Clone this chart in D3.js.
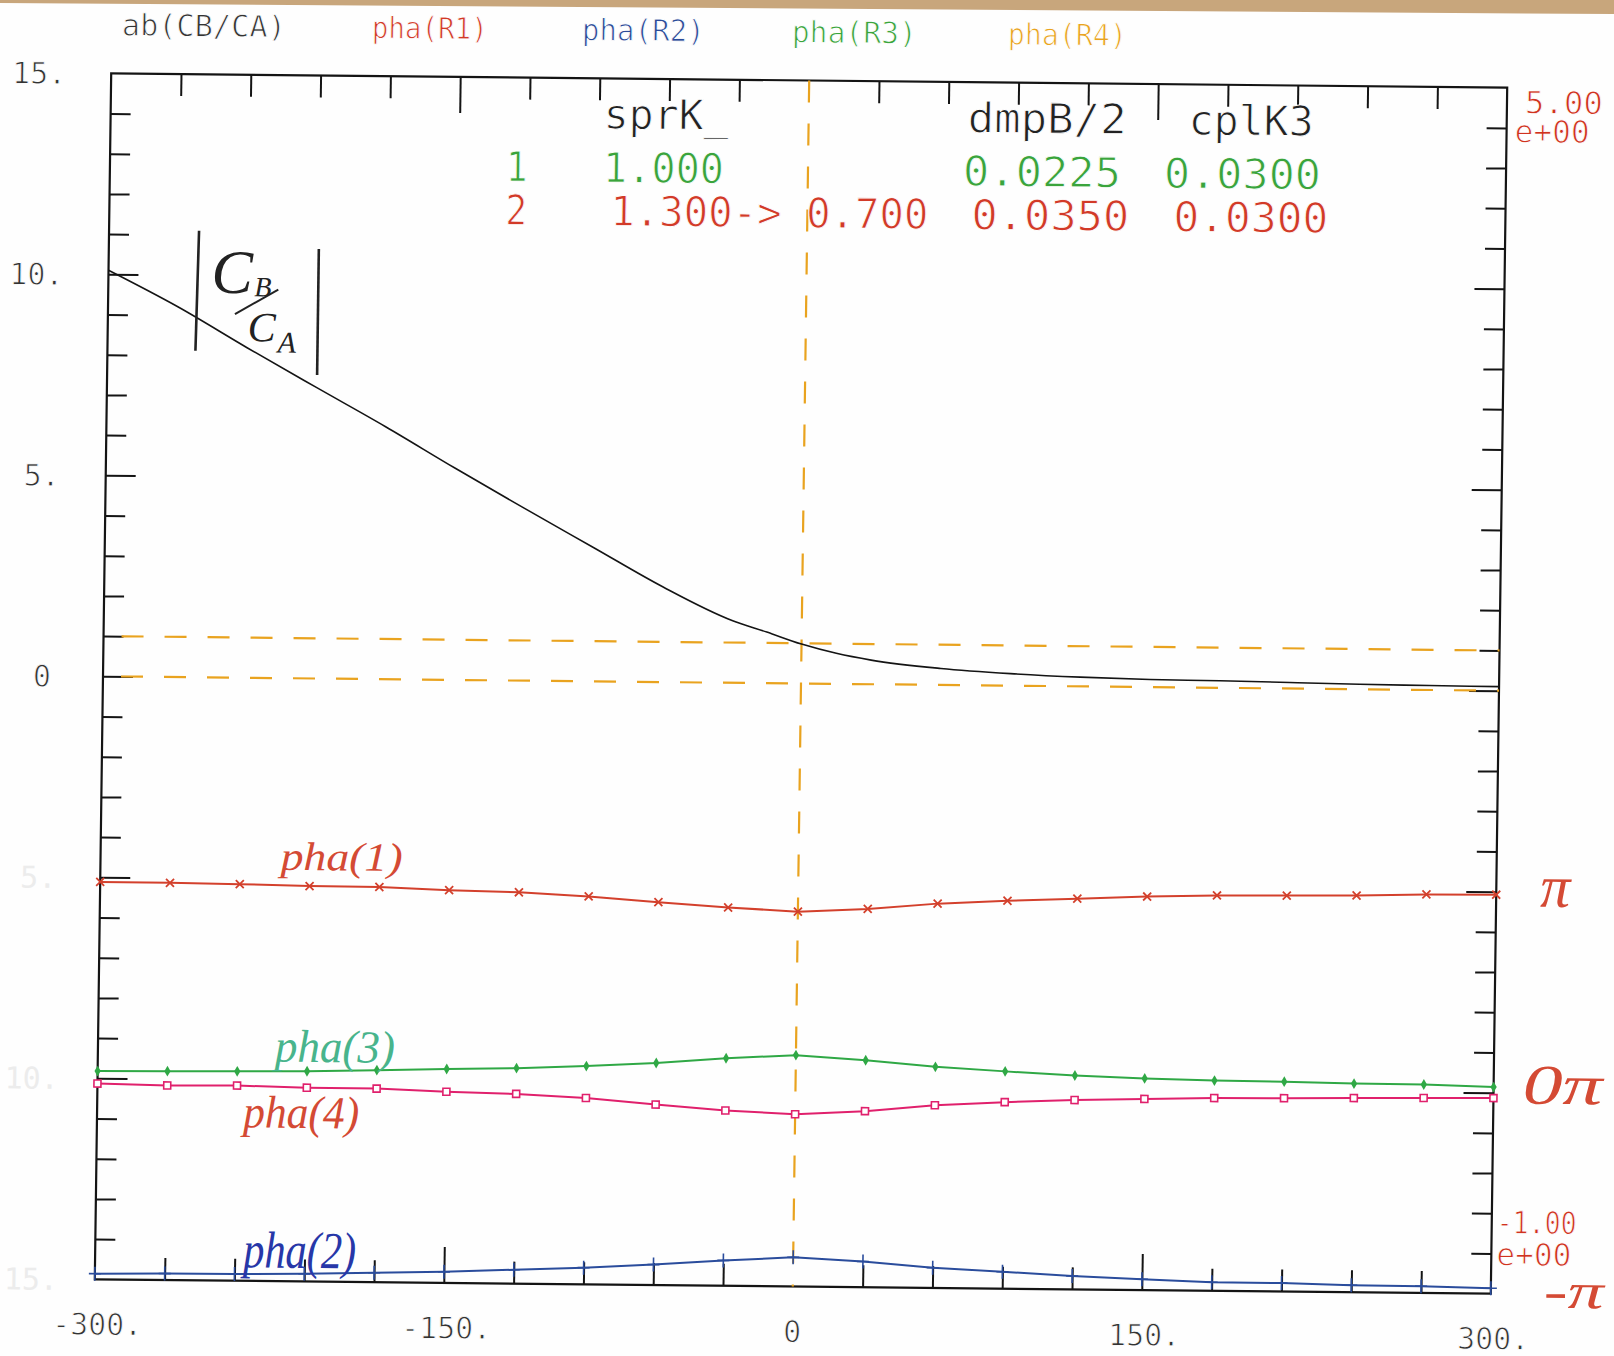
<!DOCTYPE html>
<html>
<head>
<meta charset="utf-8">
<script src="https://cdn.jsdelivr.net/npm/d3@7"></script>
<style>
  html, body { margin: 0; padding: 0; background: #ffffff; }
  svg { display: block; }
</style>
</head>
<body>
<script>
// ---------------- DATA ----------------
const absX   = [-300,-270,-240,-210,-180,-150,-120,-90,-60,-30,-15,0,15,30,60,90,120,150,180,210,240,270,300];
const absVal = [10.10,9.21,8.21,7.24,6.28,5.27,4.29,3.33,2.37,1.55,1.27,0.98,0.76,0.60,0.41,0.30,0.23,0.19,0.175,0.15,0.125,0.11,0.10];

const phaseX = [-300,-270,-240,-210,-180,-150,-120,-90,-60,-30,0,30,60,90,120,150,180,210,240,270,300];
const pha1 = [0.977,0.976,0.973,0.967,0.966,0.954,0.947,0.930,0.905,0.882,0.865,0.882,0.912,0.930,0.944,0.958,0.967,0.970,0.974,0.983,0.985];
const pha2 = [-0.972,-0.968,-0.966,-0.962,-0.953,-0.945,-0.931,-0.917,-0.898,-0.874,-0.855,-0.872,-0.899,-0.916,-0.933,-0.946,-0.957,-0.958,-0.965,-0.966,-0.973];
const pha3 = [0.036,0.039,0.042,0.046,0.055,0.064,0.072,0.086,0.105,0.132,0.151,0.129,0.100,0.081,0.064,0.053,0.046,0.044,0.038,0.037,0.028];
const pha4 = [-0.026,-0.032,-0.029,-0.036,-0.037,-0.049,-0.056,-0.073,-0.102,-0.128,-0.143,-0.124,-0.091,-0.072,-0.058,-0.049,-0.041,-0.038,-0.034,-0.030,-0.027];

const refLevels = [0, 1];      // dashed horizontal reference lines (left axis)
const refX = [0];              // dashed vertical reference line

const legendLabels = ["ab(CB/CA)", "pha(R1)", "pha(R2)", "pha(R3)", "pha(R4)"];
const paramHeader = ["sprK_", "dmpB/2", "cplK3"];
const paramRow1 = ["1", "1.000", "0.0225", "0.0300"];
const paramRow2 = ["2", "1.300-> 0.700", "0.0350", "0.0300"];

const xTickLabels = ["-300.", "-150.", "0", "150.", "300."];
const xTickValues = [-300, -150, 0, 150, 300];
const yLeftLabels = ["15.", "10.", "5.", "0"];
const yLeftValues = [15, 10, 5, 0];
const yLeftFaintLabels = ["5.", "10.", "15."];
const yLeftFaintValues = [-5, -10, -15];
const yRightLabels = [["5.00", "e+00"], ["-1.00", "e+00"]];
const yRightValues = [5, -1];

// ---------------- LAYOUT ----------------
const W = 1614, H = 1356;
const L = 103, R = 1499, T = 80.5, B = 1286.5;
const CX = 801, CY = 683;

const C = {
  black: "#141414", red: "#d3402c", blue: "#2a4c9c", green: "#2fa845",
  pink: "#e0206c", orange: "#e9a31f", legendGreen: "#3aa43c", legendBlue: "#2b4a98",
  legendRed: "#d23a28", hand: "#d44a34", handGreen: "#48b48c", handBlue: "#2737a8"
};
const MONO = "'DejaVu Sans Mono', monospace";
const HAND = "'Liberation Serif', 'DejaVu Serif', serif";
const BG = "#fefefe";

const svg = d3.select("body").append("svg").attr("width", W).attr("height", H);
svg.append("rect").attr("width", W).attr("height", H).attr("fill", BG);
// scanner edge strip
svg.append("polygon").attr("points", "0,0 1614,0 1614,14 0,3").attr("fill", "#c8a67c");

const g = svg.append("g")
  .attr("transform", `translate(${CX},${CY}) matrix(1,0.0103,-0.0136,1,0,0) translate(${-CX},${-CY})`);

const x = d3.scaleLinear().domain([-300, 300]).range([L, R]);
const yL = d3.scaleLinear().domain([-15, 15]).range([B, T]);
const yR = d3.scaleLinear().domain([-1, 5]).range([B, T]);

// ---------------- TICKS ----------------
function tickAxis(gen, tx, ty, values, size) {
  g.append("g").attr("transform", `translate(${tx},${ty})`)
    .call(gen.tickValues(values).tickSize(size).tickFormat(""))
    .call(s => s.select(".domain").remove())
    .call(s => s.selectAll("line").attr("stroke", C.black).attr("stroke-width", 2));
}
const xMinor = [-270,-240,-210,-180,-120,-90,-60,-30,30,60,90,120,180,210,240,270];
const xMajor = [-150, 150];
tickAxis(d3.axisTop(x), 0, T, xMinor, -22);
tickAxis(d3.axisTop(x), 0, T, xMajor, -36);
tickAxis(d3.axisBottom(x), 0, B, xMinor, -22);
tickAxis(d3.axisBottom(x), 0, B, xMajor, -36);

const yMinor = d3.range(-14, 15).filter(v => v % 5 !== 0);
const yMajor = [-10, -5, 0, 5, 10];
tickAxis(d3.axisLeft(yL), L, 0, yMinor, -20);
tickAxis(d3.axisLeft(yL), L, 0, yMajor, -30);
const rMinor = d3.range(-4, 25).filter(i => i % 5 !== 0).map(i => i / 5);
const rMajor = [0, 1, 2, 3, 4];
tickAxis(d3.axisRight(yR), R, 0, rMinor, -20);
tickAxis(d3.axisRight(yR), R, 0, rMajor, -30);

// frame
g.append("rect").attr("x", L).attr("y", T).attr("width", R - L).attr("height", B - T)
  .attr("fill", "none").attr("stroke", C.black).attr("stroke-width", 2.2);

// ---------------- REFERENCE DASHED LINES ----------------
g.selectAll(".refh").data(refLevels).join("line")
  .attr("x1", x(-300)).attr("x2", x(300))
  .attr("y1", d => yL(d)).attr("y2", d => yL(d))
  .attr("stroke", C.orange).attr("stroke-width", 2.2).attr("stroke-dasharray", "22,21")
  .attr("stroke-dashoffset", -18);
g.selectAll(".refv").data(refX).join("line")
  .attr("x1", d => x(d)).attr("x2", d => x(d))
  .attr("y1", yL(15)).attr("y2", yL(-15))
  .attr("stroke", C.orange).attr("stroke-width", 2.2).attr("stroke-dasharray", "22,21");

// ---------------- CURVES ----------------
const absLine = d3.line().curve(d3.curveMonotoneX).x((d, i) => x(absX[i])).y(d => yL(d));
g.append("path").attr("d", absLine(absVal)).attr("fill", "none")
  .attr("stroke", C.black).attr("stroke-width", 1.6);

const phLine = d3.line().x((d, i) => x(phaseX[i])).y(d => yR(d));
const series = [
  { v: pha1, c: C.red, m: "x" },
  { v: pha3, c: C.green, m: "d" },
  { v: pha4, c: C.pink, m: "s" },
  { v: pha2, c: C.blue, m: "+" }
];
series.forEach(s => {
  g.append("path").attr("d", phLine(s.v)).attr("fill", "none")
    .attr("stroke", s.c).attr("stroke-width", 2);
  const mk = g.append("g").selectAll("g").data(s.v).join("g")
    .attr("transform", (d, i) => `translate(${x(phaseX[i])},${yR(d)})`);
  if (s.m === "x") {
    mk.append("path").attr("d", "M-4,-4L4,4M-4,4L4,-4").attr("stroke", s.c).attr("stroke-width", 1.8);
  } else if (s.m === "+") {
    mk.append("path").attr("d", "M-6,0H6M0,-7V7").attr("stroke", s.c).attr("stroke-width", 1.6);
  } else if (s.m === "s") {
    mk.append("rect").attr("x", -3.5).attr("y", -3.5).attr("width", 7).attr("height", 7)
      .attr("fill", "#fff").attr("stroke", s.c).attr("stroke-width", 1.6);
  } else {
    mk.append("path").attr("d", d3.symbol().type(d3.symbolDiamond).size(34)()).attr("fill", s.c);
  }
});

// ---------------- TEXT ----------------
// thin "plotter" look: erode glyphs slightly with a background-coloured stroke
function thin(sel, w) { return sel.attr("stroke", BG).attr("stroke-width", w).attr("paint-order", "normal"); }

function txt(str, px, py, o) {
  const t = g.append("text").text(str)
    .attr("font-family", o.font || MONO).attr("font-size", o.size)
    .attr("fill", o.color).attr("text-anchor", o.anchor || "start");
  if (o.sy) t.attr("transform", `translate(${px},${py}) scale(1,${o.sy})`).attr("x", 0).attr("y", 0);
  else t.attr("x", px).attr("y", py);
  if (o.italic) t.attr("font-style", "italic");
  if (o.len) t.attr("textLength", o.len).attr("lengthAdjust", "spacingAndGlyphs");
  if (o.thin) thin(t, o.thin);
  return t;
}

// legend header
const legendX = [113, 363, 573, 783, 999];
const legendLen = [164, 116, 123, 125, 119];
const legendCol = ["#333333", C.legendRed, C.legendBlue, C.legendGreen, C.orange];
legendLabels.forEach((s, i) => txt(s, legendX[i], 42.5, { size: 30, color: legendCol[i], len: legendLen[i], thin: 0.9 }));

// parameter table (tall, narrow plotter lettering)
const TS = { size: 36, sy: 1.15, thin: 0.8 };
const hdrX = [596, 960, 1181], hdrLen = [125, 159, 125];
paramHeader.forEach((s, i) => txt(s, hdrX[i], 130.5, { ...TS, color: "#222", len: hdrLen[i] }));
const r1X = [499, 596, 956, 1157], r1Len = [null, 121, 158, 157];
paramRow1.forEach((s, i) => txt(s, r1X[i], 184, { ...TS, color: C.legendGreen, len: r1Len[i] }));
const r2X = [499, 604, 965, 1167], r2Len = [null, 318, 158, 155];
paramRow2.forEach((s, i) => txt(s, r2X[i], 227.5, { ...TS, color: C.legendRed, len: r2Len[i] }));

// bottom axis labels
xTickLabels.forEach((s, i) => txt(s, x(xTickValues[i]) + (s.endsWith(".") ? 3 : 0), 1342,
  { size: 30, color: "#333", anchor: "middle", thin: 0.9 }));

// left axis labels
const yLabX = [31, 31, 39, 42];
yLeftLabels.forEach((s, i) => txt(s, yLabX[i], yL(yLeftValues[i]) + 11, { size: 30, color: "#333", anchor: "middle", thin: 0.9 }));
const yFaintX = [23, 10, 12];
yLeftFaintLabels.forEach((s, i) => txt(s, yFaintX[i], yL(yLeftFaintValues[i]) + 11, { size: 30, color: "#ececec" }));

// right axis labels
const RS = { size: 24, sy: 1.3, thin: 0.7, color: "#d0321f" };
txt(yRightLabels[0][0], 1517, 106, { ...RS, len: 78 });
txt(yRightLabels[0][1], 1507, 135, { ...RS, len: 75 });
txt(yRightLabels[1][0], 1504, 1226, { ...RS, len: 80 });
txt(yRightLabels[1][1], 1504, 1258, { ...RS, len: 75 });

// ---------------- HAND ANNOTATIONS ----------------
const hand = g.append("g");
hand.append("line").attr("x1", 193).attr("y1", 237).attr("x2", 191).attr("y2", 357)
  .attr("stroke", "#222").attr("stroke-width", 2.6);
hand.append("line").attr("x1", 313).attr("y1", 254).attr("x2", 313).attr("y2", 380)
  .attr("stroke", "#222").attr("stroke-width", 2.6);
txt("C", 206, 299, { size: 62, color: "#222", italic: true, font: HAND });
txt("B", 249, 302, { size: 28, color: "#222", italic: true, font: HAND });
hand.append("line").attr("x1", 230).attr("y1", 320).attr("x2", 273).attr("y2", 295)
  .attr("stroke", "#222").attr("stroke-width", 2);
txt("C", 243, 347, { size: 42, color: "#222", italic: true, font: HAND });
txt("A", 273, 358, { size: 30, color: "#222", italic: true, font: HAND });

txt("pha(1)", 283, 875, { size: 40, color: C.hand, italic: true, font: HAND, len: 122 });
txt("pha(3)", 280, 1067, { size: 46, color: C.handGreen, italic: true, font: HAND, len: 120 });
txt("pha(4)", 249, 1133, { size: 46, color: C.hand, italic: true, font: HAND, len: 116 });
txt("pha(2)", 251, 1273, { size: 52, color: C.handBlue, italic: true, font: HAND, len: 113 });
txt("π", 1543, 899, { size: 60, color: C.hand, italic: true, font: HAND });
txt("0π", 1528, 1096, { size: 56, color: C.hand, italic: true, font: HAND, len: 80 });
txt("-π", 1552, 1300, { size: 50, color: C.hand, italic: true, font: HAND, len: 60 });
</script>
</body>
</html>
